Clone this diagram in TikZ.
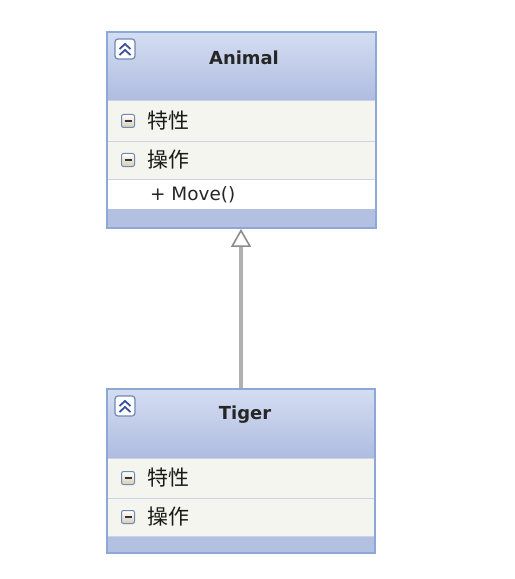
\documentclass[tikz,border=0pt]{standalone}
\usepackage{fontspec}
\setmainfont{DejaVu Sans}
\newfontfamily\cjk{Noto Sans CJK SC}
\usetikzlibrary{arrows.meta}
\definecolor{bordc}{HTML}{8DA8D6}
\definecolor{hdtop}{HTML}{D4DDF1}
\definecolor{hdbot}{HTML}{AFBCE1}
\definecolor{footc}{HTML}{B3C0E2}
\definecolor{bandc}{HTML}{F3F5EE}
\definecolor{sepc}{HTML}{C9D4EC}
\definecolor{chevc}{HTML}{3A4FA0}
\definecolor{linkc}{HTML}{B0B0B0}
\definecolor{tipc}{HTML}{8C8C8C}
\definecolor{minbord}{HTML}{6F88B4}
\definecolor{minbot}{HTML}{D8CCB4}
\tikzset{
  titletext/.style={font=\fontsize{18}{20}\selectfont\bfseries, text=black!85, inner sep=0pt},
  cjktext/.style={font=\cjk\fontsize{21}{23}\selectfont, text=black!90, anchor=west, inner sep=0pt},
  optext/.style={font=\fontsize{18.5}{20}\selectfont, text=black!85, anchor=west, inner sep=0pt},
  classbox/.style={draw=bordc, line width=1.8bp, inner sep=0pt},
  band/.style={fill=bandc},
  sepline/.style={draw=sepc, line width=1bp},
  minusicon/.style={draw=minbord, line width=1bp, rounded corners=2bp, top color=white, bottom color=minbot},
  collicon/.style={draw=minbord, line width=1.2bp, rounded corners=3bp, fill=white},
  chev/.style={draw=chevc, line width=1.8bp},
  genlink/.style={draw=linkc, line width=3.5bp, -{Triangle[length=18bp, width=20bp, fill=white, color=tipc, line width=1.6bp]}},
}
\newcommand{\minusat}[2]{%
  \path[minusicon] (#1-6.5,#2-6.5) rectangle (#1+6.5,#2+6.5);
  \draw[black!80, line width=2bp] (#1-3.5,#2) -- (#1+3.5,#2);
}
\newcommand{\collat}[2]{%
  \path[collicon] (#1,#2) rectangle (#1+20,#2+20);
  \draw[chev] (#1+4.5,#2+10) -- (#1+10,#2+5) -- (#1+15.5,#2+10);
  \draw[chev] (#1+4.5,#2+16) -- (#1+10,#2+11) -- (#1+15.5,#2+16);
}
\begin{document}
\begin{tikzpicture}[x=1bp, y=-1bp]
\useasboundingbox (0,0) rectangle (515,579);
\fill[white] (0,0) rectangle (515,579);
% ---------- Animal ----------
\shade[top color=hdtop, bottom color=hdbot] (107,32) rectangle (376,101);
\fill[band] (107,101) rectangle (376,179);
\fill[white] (107,179) rectangle (376,209);
\fill[footc] (107,209) rectangle (376,228);
\draw[sepline] (108,101) -- (375,101);
\draw[sepline] (108,142) -- (375,142);
\draw[sepline] (108,179) -- (375,179);
\collat{115}{39}
\node[titletext] (animaltitle) at (244,58) {Animal};
\minusat{128}{121}
\node[cjktext] (animalattr) at (147,121) {特性};
\minusat{128}{160}
\node[cjktext] (animalops) at (147,160) {操作};
\node[optext] (animalmove) at (150,195) {+ Move()};
\node[classbox, minimum width=269bp, minimum height=196bp] (animal) at (241.5,130) {};
% ---------- Tiger ----------
\shade[top color=hdtop, bottom color=hdbot] (107,389) rectangle (375,458);
\fill[band] (107,458) rectangle (375,536);
\fill[footc] (107,536) rectangle (375,553);
\draw[sepline] (108,458) -- (374,458);
\draw[sepline] (108,498) -- (374,498);
\draw[sepline] (108,536) -- (374,536);
\collat{115}{396}
\node[titletext] (tigertitle) at (245,415) {Tiger};
\minusat{128}{478}
\node[cjktext] (tigerattr) at (147,478) {特性};
\minusat{128}{517}
\node[cjktext] (tigerops) at (147,517) {操作};
\node[classbox, minimum width=268bp, minimum height=164bp] (tiger) at (241,471) {};
% ---------- generalization ----------
\draw[genlink] (tiger.north -| 241,0) -- (animal.south -| 241,0);
\end{tikzpicture}
\end{document}
